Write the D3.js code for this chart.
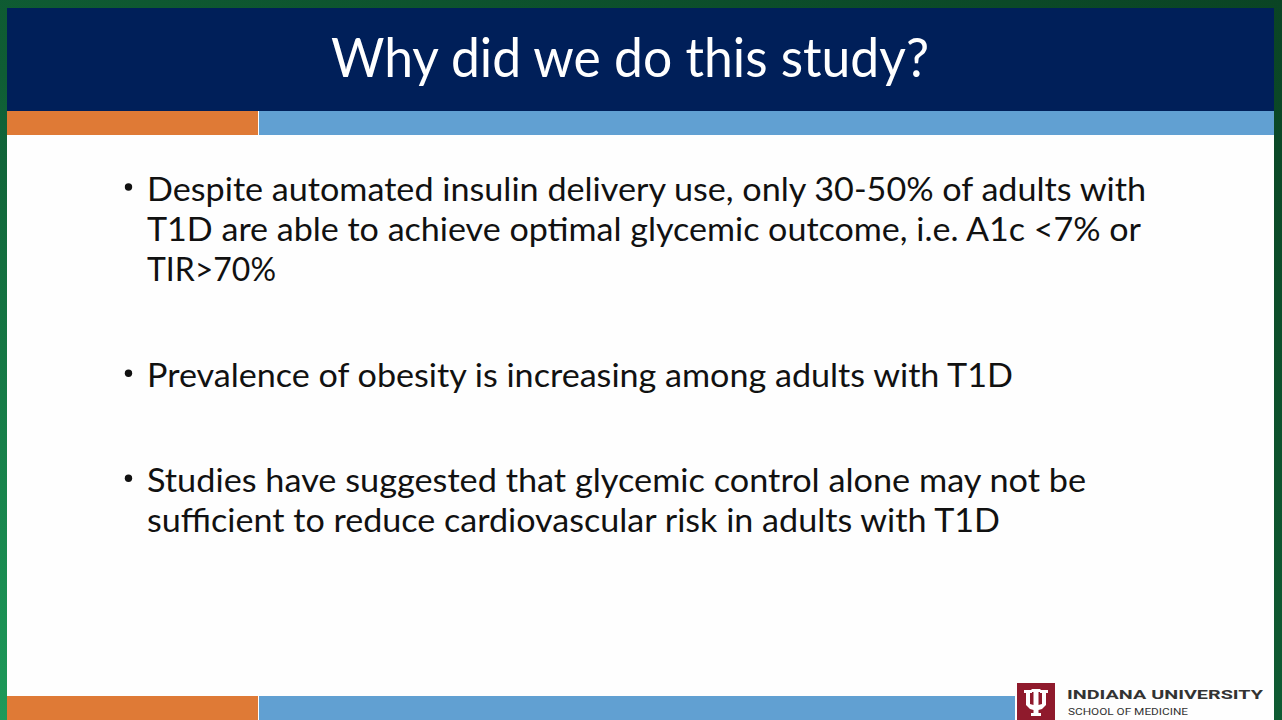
<!DOCTYPE html>
<html>
<head>
<meta charset="utf-8">
<script src="https://cdn.jsdelivr.net/npm/d3@7"></script>
<style>
  html, body { margin: 0; padding: 0; background: #0d4f2c; overflow: hidden; }
  svg { display: block; }
</style>
</head>
<body>
<script>
// ---- content ----
const titleText = "Why did we do this study?";
const bulletLines = [
  ["Despite automated insulin delivery use, only 30-50% of adults with",
   "T1D are able to achieve optimal glycemic outcome, i.e. A1c <7% or",
   "TIR>70%"],
  ["Prevalence of obesity is increasing among adults with T1D"],
  ["Studies have suggested that glycemic control alone may not be",
   "sufficient to reduce cardiovascular risk in adults with T1D"]
];
const lineWidths = [[999, 994, 129], [866], [939, 853]];
const bulletBaselines = [200.5, 386.7, 491.7];
const logoName = "INDIANA UNIVERSITY";
const logoSub = "SCHOOL OF MEDICINE";

const W = 1282, H = 720;
const svg = d3.select("body").append("svg").attr("width", W).attr("height", H);

// green frame gradient
const defs = svg.append("defs");
const g = defs.append("linearGradient").attr("id", "frame")
  .attr("x1", "100%").attr("y1", "0%").attr("x2", "0%").attr("y2", "100%");
g.append("stop").attr("offset", "0%").attr("stop-color", "#0a4424");
g.append("stop").attr("offset", "55%").attr("stop-color", "#0f5d34");
g.append("stop").attr("offset", "100%").attr("stop-color", "#1d9a5a");
svg.append("rect").attr("width", W).attr("height", H).attr("fill", "url(#frame)");

// slide area
const sx = d3.scaleLinear().domain([0, 1]).range([7, 1274]);
svg.append("rect").attr("x", sx(0)).attr("y", 8).attr("width", sx(1) - sx(0)).attr("height", H - 8)
  .attr("fill", "#fefefe");

// header
svg.append("rect").attr("x", sx(0)).attr("y", 8).attr("width", sx(1) - sx(0)).attr("height", 103)
  .attr("fill", "#001f59");
// top accent bars
svg.append("rect").attr("x", 7).attr("y", 111).attr("width", 251).attr("height", 24).attr("fill", "#df7a36");
svg.append("rect").attr("x", 259).attr("y", 111).attr("width", 1015).attr("height", 24).attr("fill", "#61a0d2");
// bottom accent bars
svg.append("rect").attr("x", 7).attr("y", 696).attr("width", 251).attr("height", 24).attr("fill", "#df7a36");
svg.append("rect").attr("x", 259).attr("y", 696).attr("width", 756).attr("height", 24).attr("fill", "#61a0d2");

// title
svg.append("text").attr("x", 630).attr("y", 77)
  .attr("text-anchor", "middle")
  .attr("font-family", "Lato, 'Open Sans', sans-serif")
  .attr("font-size", 54)
  .attr("fill", "#ffffff")
  .attr("textLength", 598).attr("lengthAdjust", "spacingAndGlyphs")
  .text(titleText);

// bullets
const lineH = 40;
bulletLines.forEach((lines, i) => {
  const base = bulletBaselines[i];
  svg.append("circle").attr("cx", 128.5).attr("cy", base - 13.5).attr("r", 3.7).attr("fill", "#111");
  lines.forEach((ln, j) => {
    svg.append("text")
      .attr("x", 147).attr("y", base + j * lineH)
      .attr("font-family", "Lato, 'Open Sans', sans-serif")
      .attr("font-size", 33)
      .attr("fill", "#111111")
      .attr("textLength", lineWidths[i][j]).attr("lengthAdjust", "spacingAndGlyphs")
      .text(ln);
  });
});

// logo
const lx = 1017, ly = 683;
svg.append("rect").attr("x", lx).attr("y", ly).attr("width", 38).attr("height", 37).attr("fill", "#8f1a2c");
const tri = d3.path();
// trident shape (relative coordinates)
const pts = [
  [7,7],[15,7],[15,10],[13,10],[13,21],[16.5,22],[16.5,9],[14.5,9],[14.5,6],[23.5,6],[23.5,9],[21.5,9],
  [21.5,22],[25,21],[25,10],[23,10],[23,7],[31,7],[31,10],[29,10],[29,22],[25,26],[21.5,27],[21.5,30],
  [24,30],[24,33],[14,33],[14,30],[16.5,30],[16.5,27],[13,26],[9,22],[9,10],[7,10]
];
pts.forEach((p, k) => k === 0 ? tri.moveTo(lx + p[0], ly + p[1]) : tri.lineTo(lx + p[0], ly + p[1]));
tri.closePath();
svg.append("path").attr("d", tri.toString()).attr("fill", "#ffffff");

svg.append("text").attr("x", 1067).attr("y", 699)
  .attr("font-family", "Roboto, 'Liberation Sans', sans-serif").attr("font-weight", 700)
  .attr("font-size", 13.5).attr("fill", "#333333")
  .attr("textLength", 196).attr("lengthAdjust", "spacingAndGlyphs")
  .text(logoName);
svg.append("text").attr("x", 1068).attr("y", 714.5)
  .attr("font-family", "Roboto, 'Liberation Sans', sans-serif")
  .attr("font-size", 9.8).attr("fill", "#333333")
  .attr("textLength", 120).attr("lengthAdjust", "spacingAndGlyphs")
  .text(logoSub);
</script>
</body>
</html>
